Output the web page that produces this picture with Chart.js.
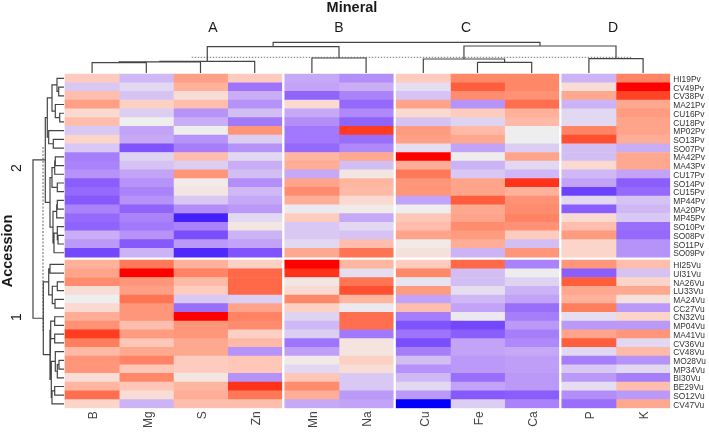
<!DOCTYPE html>
<html>
<head>
<meta charset="utf-8">
<style>
  html, body { margin: 0; padding: 0; background: #fff; }
  canvas { display: block; }
</style>
<script src="https://cdn.jsdelivr.net/npm/chart.js@4/dist/chart.umd.min.js"></script>
</head>
<body>
<canvas id="chart" width="709" height="434"></canvas>
<script>
// Row and column labels, in the order they appear on the heatmap
const minerals = ["B", "Mg", "S", "Zn", "Mn", "Na", "Cu", "Fe", "Ca", "P", "K"];
const mineralGroupSizes = [4, 2, 3, 2];
const accessionsPv = ["HI19Pv", "CV49Pv", "CV38Pv", "MA21Pv", "CU16Pv", "CU18Pv", "MP02Pv", "SO13Pv", "SO07Pv", "MA42Pv", "MA43Pv",
  "CU17Pv", "SO14Pv", "CU15Pv", "MP44Pv", "MA20Pv", "MP45Pv", "SO10Pv", "SO08Pv", "SO11Pv", "SO09Pv"];
const accessionsVu = ["HI25Vu", "UI31Vu", "NA26Vu", "LU33Vu", "MA24Vu", "CC27Vu", "CN32Vu", "MP04Vu", "MA41Vu", "CV36Vu", "CV48Vu",
  "MO28Vu", "MP34Vu", "BI30Vu", "BE29Vu", "SO12Vu", "CV47Vu"];

// Standardised values: first the 21 Pv rows, then the 17 Vu rows
const valuesB = [.4, -.35, .55, .9, .25, .55, -.35, .3, -.35, -1.05, -1, -.85, -1.35, -1.25, -1.4, -1, -1.25, -1.3, -.6, -.8, -1.55,
  .7, .85, 1.1, .2, 0, .25, .75, 1.05, 1.8, 1.25, .6, 1, 1, .2, .65, 1.4, .3];
const valuesMg = [-.5, -.2, -.4, .35, -.3, 0, -.7, -.65, -1.45, -.25, -.4, -.7, -.85, -1, -.85, -1.3, -1, -1.1, -.85, -1.4, -.55,
  1.3, 2, 1, .9, 1.35, 1, 1, .55, .95, .45, .8, 1.2, .45, 1.15, .45, .2, -.55];
const valuesS = [.9, .7, .2, .55, -.85, -.6, 0, -.85, -1.05, .55, -.3, 1, .05, .1, -.35, -.9, -1.85, -1, -1.5, -.8, -1.8,
  .7, 1.2, .6, .4, -.35, -1.2, 2, 1, 1, .8, .8, .4, .4, .1, .65, .75, .55];
const valuesZn = [.4, -1.15, -.6, -.85, -.45, -1.1, 1, -.3, -.85, -.2, -.6, -.45, -.9, -.5, -.65, -.8, -.2, .1, -.55, -.7, -1.45,
  .35, 1.45, 1.45, 1.45, -.3, .85, 1.2, 1.1, .35, .6, -.85, .45, .45, -.85, 1.85, 1.3, .55];
const valuesMn = [-.65, -.7, -1.3, .25, -.65, -.9, -1.1, -1.1, -1.25, .65, .75, -.65, .85, 1.1, .75, -.05, .4, -.35, -.35, -.2, .8,
  2, 1.85, .1, .25, 1.15, .35, -.25, -.5, -.3, -1.15, -.75, .05, -.2, .45, 1.1, .75, -.65];
const valuesNa = [-.9, -.6, -1, -1.25, -.95, -1.3, 1.8, -1.2, -.95, .8, -.45, .1, .65, .6, .25, .05, -.65, -.2, -.4, .55, 1.35,
  .65, -.15, 1.35, 1.65, .65, -.05, 1.4, 1.4, -1.1, .12, .12, .35, .2, -.35, -.35, -.8, -.7];
const valuesCu = [.4, -.15, -.4, .85, .25, -.4, .95, .9, -.15, 2, .75, 1.3, 1, 1, -.7, 0, .45, .55, .85, .05, .15,
  .4, 1.15, -.1, .95, -.7, .55, -1.05, -1.45, -1.15, -1.5, -1.05, -.45, -.85, -.5, -.2, -.8, -2];
const valuesFe = [1.15, 1.55, 1.1, -.85, .4, -.25, .6, .8, -.7, .02, -.55, -.35, .85, .85, 1.55, .8, .85, 1.1, .95, .75, -.55,
  1.45, -.45, -.45, -.15, -.5, -.7, -.05, -1.55, -1.35, -.7, -.7, -.8, -.8, -1.2, -.7, -1.4, -.3];
const valuesCa = [1.15, 1.15, 1.05, 1.4, .7, .6, 0, 0, -.3, .85, -.2, -.5, 1.85, .7, 1.05, 1.1, 1.2, 1.05, .4, -.45, 1,
  -1, -.02, -.25, -.55, -.7, -1.2, -1.05, -.8, -1.05, -.95, -.65, -.75, -.75, -.8, -.8, -1.35, -1];
const valuesP = [-.55, .2, .8, -.55, -.2, -.2, 1.2, 1.65, -.45, -.45, .25, -.5, -.7, -1.6, -.2, -1.35, .25, .55, .95, .3, .3,
  1, -1.35, 1.55, .8, .7, 1.25, -.15, -.8, .85, 1.55, -.2, -1.05, -.35, -.8, -.15, -.9, -1.2];
const valuesK = [1.2, 2, 1.75, .8, .95, .85, .85, .75, -.6, .8, .8, -.7, -1.35, -1.25, -.4, -.5, -.35, -1.2, -1.25, -.85, -.85,
  .55, -.4, .3, .8, .15, -.8, .3, -.8, 1, -.2, .6, -.85, -.2, -1.05, .55, -.8, .8];
const columns = [valuesB, valuesMg, valuesS, valuesZn, valuesMn, valuesNa, valuesCu, valuesFe, valuesCa, valuesP, valuesK];

// Dendrograms as nested [height, left, right], a bare number is a leaf index
const mineralTree = [31.7,
  [27.3, [12.7, [12.2, [11.3, 0, 1], 2], 3], [16, 4, 5]],
  [28, [15, 6, [11.7, 7, 8]], [15.3, 9, 10]]];
const accessionTree = [32,
  [19.7,
    [17.7,
      [13, [8, 0, [6.3, 1, 2]], [9.7, 3, [5.3, 4, 5]]],
      [16.3, 6, [11.7, 7, 8]]],
    [15,
      [13, [10.3, [9.7, 9, 10], 11], [7.7, 12, 13]],
      [12, [8.3, [7.7, 14, 15], 16], [11, [7.7, 17, [7, 18, 19]], 20]]]],
  [21.7,
    [16.3, [15, 21, 22], [12.7, [7.7, 23, 24], [10, 25, 26]]],
    [15,
      [14.3, [10.3, 27, 28], [10.3, 29, 30]],
      [13.7,
        [9.7, 31, [7.7, [6, 32, 33], 34]],
        [13, [10.3, 35, 36], 37]]]]];
const treeLeafGap = 1;

const cellW = 54.2, blockGap = 3, rowH = 8.72, rowGap = 3;

// Column left edges, with a small gap between the mineral groups
const colStarts = [];
let xPos = 0;
mineralGroupSizes.forEach(size => {
  for (let i = 0; i < size; i++) { colStarts.push(xPos); xPos += cellW; }
  xPos += blockGap;
});
const colCenters = colStarts.map(v => v + cellW / 2);

const rowNames = accessionsPv.concat(accessionsVu);
const rowCenters = rowNames.map((_, i) => (i + 0.5) * rowH + (i >= accessionsPv.length ? rowGap : 0));

// Blue / grey / red ramp, interpolated in LAB like the original heatmap
function rgbToLab(c) {
  const f = c.map(v => { v /= 255; return v > 0.04045 ? Math.pow((v + 0.055) / 1.055, 2.4) : v / 12.92; });
  const xyz = [
    (0.4124 * f[0] + 0.3576 * f[1] + 0.1805 * f[2]) / 0.95047,
    0.2126 * f[0] + 0.7152 * f[1] + 0.0722 * f[2],
    (0.0193 * f[0] + 0.1192 * f[1] + 0.9505 * f[2]) / 1.08883
  ].map(v => v > 0.008856 ? Math.cbrt(v) : 7.787 * v + 16 / 116);
  return [116 * xyz[1] - 16, 500 * (xyz[0] - xyz[1]), 200 * (xyz[1] - xyz[2])];
}
function labToRgb(l) {
  const fy = (l[0] + 16) / 116, fx = l[1] / 500 + fy, fz = fy - l[2] / 200;
  const inv = v => v * v * v > 0.008856 ? v * v * v : (v - 16 / 116) / 7.787;
  const X = inv(fx) * 0.95047, Y = inv(fy), Z = inv(fz) * 1.08883;
  return [
    3.2406 * X - 1.5372 * Y - 0.4986 * Z,
    -0.9689 * X + 1.8758 * Y + 0.0415 * Z,
    0.0557 * X - 0.204 * Y + 1.057 * Z
  ].map(v => {
    v = v > 0.0031308 ? 1.055 * Math.pow(v, 1 / 2.4) - 0.055 : 12.92 * v;
    return Math.round(Math.min(1, Math.max(0, v)) * 255);
  });
}
const labLow = rgbToLab([0, 0, 255]), labMid = rgbToLab([238, 238, 238]), labHigh = rgbToLab([255, 0, 0]);
function cellColor(v) {
  const t = Math.min(1, Math.abs(v) / 2), end = v < 0 ? labLow : labHigh;
  return "rgb(" + labToRgb(labMid.map((m, i) => m + (end[i] - m) * t)).join(",") + ")";
}

// One floating bar dataset per mineral column
const cellDatasets = minerals.map((name, c) => ({
  type: "bar",
  label: name,
  indexAxis: "y",
  grouped: false,
  barThickness: rowH,
  data: columns[c].map((_, r) => ({ x: [colStarts[c], colStarts[c] + cellW], y: rowCenters[r] })),
  backgroundColor: columns[c].map(cellColor),
  borderWidth: 0
}));

// Flatten a tree into line pieces; point() maps (position along leaves, height) to x/y
function treeSegments(node, leafAt, point, out) {
  if (typeof node === "number") return { pos: leafAt[node], h: treeLeafGap };
  const a = treeSegments(node[1], leafAt, point, out);
  const b = treeSegments(node[2], leafAt, point, out);
  out.push(point(a.pos, a.h), point(a.pos, node[0]), point(b.pos, node[0]), point(b.pos, b.h), { x: NaN, y: NaN });
  return { pos: (a.pos + b.pos) / 2, h: node[0] };
}

const mineralLines = [];
treeSegments(mineralTree, colCenters, (pos, h) => ({ x: pos, y: -h }), mineralLines);
const accessionLines = [];
treeSegments(accessionTree, rowCenters, (pos, h) => ({ x: -h, y: pos }), accessionLines);

const treeStyle = { type: "scatter", showLine: true, pointRadius: 0, borderColor: "#444", borderWidth: 1.2, spanGaps: false, order: 1 };

// Cut lines across each dendrogram
const mineralCut = [{ x: 126.7, y: -16.7 }, { x: 566.7, y: -16.7 }];
const accessionCut = [{ x: -22, y: 73 }, { x: -22, y: 257.7 }];

// Titles and cluster letters, real text drawn on the canvas
const labelsPlugin = {
  id: "labels",
  afterDraw(chart) {
    const ctx = chart.ctx;
    const put = (text, x, y, font, rot) => {
      ctx.save();
      ctx.translate(x, y);
      ctx.rotate(rot || 0);
      ctx.font = font;
      ctx.fillStyle = "#1a1a1a";
      ctx.textAlign = "center";
      ctx.textBaseline = "middle";
      ctx.fillText(text, 0, 0);
      ctx.restore();
    };
    const plain = "14px 'Liberation Sans'", bold = "bold 14.5px 'Liberation Sans'";
    put("Mineral", 352, 7.5, bold);
    put("A", 213, 28, plain);
    put("B", 339, 28, plain);
    put("C", 466, 28, plain);
    put("D", 613, 28, plain);
    put("Accession", 8, 251, bold, -Math.PI / 2);
    put("2", 17, 168, plain, -Math.PI / 2);
    put("1", 17, 317, plain, -Math.PI / 2);
  }
};

new Chart(document.getElementById("chart"), {
  type: "bar",
  data: {
    datasets: cellDatasets.concat([
      Object.assign({ label: "mineral tree", data: mineralLines }, treeStyle),
      Object.assign({ label: "accession tree", data: accessionLines }, treeStyle),
      Object.assign({ label: "mineral cut", data: mineralCut }, treeStyle, { borderColor: "#555", borderWidth: 0.8, borderDash: [1.5, 1.5] }),
      Object.assign({ label: "accession cut", data: accessionCut }, treeStyle, { borderColor: "#999", borderWidth: 1.5, borderDash: [2, 1.5] })
    ])
  },
  plugins: [labelsPlugin],
  options: {
    responsive: false,
    animation: false,
    indexAxis: "y",
    layout: { padding: { left: 30, top: 40, right: 0, bottom: 0 } },
    plugins: { legend: { display: false }, title: { display: false }, tooltip: { enabled: false } },
    scales: {
      x: {
        type: "linear",
        position: "bottom",
        min: -35,
        max: xPos - blockGap,
        grid: { display: false, drawTicks: false },
        border: { display: false },
        afterBuildTicks: ax => { ax.ticks = colCenters.map(value => ({ value })); },
        afterFit: ax => { ax.height = 25.7; ax.paddingLeft = 0; ax.paddingRight = 0; },
        ticks: {
          autoSkip: false,
          minRotation: 90,
          maxRotation: 90,
          padding: 3,
          labelOffset: 2,
          color: "#444",
          font: { family: "'Liberation Sans'", size: 12 },
          callback: (v, i) => minerals[i]
        }
      },
      y: {
        type: "linear",
        position: "right",
        reverse: true,
        offset: false, // bar charts turn this on for the index axis, it would squeeze the rows
        min: -34,
        max: rowCenters[rowCenters.length - 1] + rowH / 2,
        grid: { display: false, drawTicks: false },
        border: { display: false },
        afterBuildTicks: ax => { ax.ticks = rowCenters.map(value => ({ value })); },
        afterFit: ax => { ax.width = 38.8; ax.paddingTop = 0; ax.paddingBottom = 0; },
        ticks: {
          autoSkip: false,
          padding: 3,
          labelOffset: 1.3,
          color: "#333",
          font: { family: "'Liberation Sans'", size: 8.4 },
          callback: (v, i) => rowNames[i]
        }
      }
    }
  }
});
</script>
</body>
</html>
